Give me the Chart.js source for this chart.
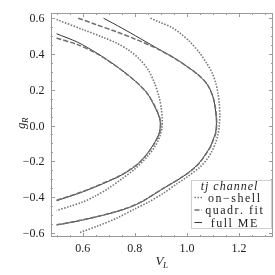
<!DOCTYPE html>
<html>
<head>
<meta charset="utf-8">
<script src="https://cdn.jsdelivr.net/npm/chart.js@4.4.1/dist/chart.umd.min.js"></script>
<style>
  html, body { margin: 0; padding: 0; background: #fff; }
  #wrap { width: 275px; height: 275px; }
</style>
</head>
<body>
<div id="wrap"><canvas id="contours" width="275" height="275"></canvas></div>
<script>
//Tick values and labels
const xTicks = [0.6, 0.8, 1.0, 1.2];
const xTickLabels = ['0.6', '0.8', '1.0', '1.2'];
const yTicks = [-0.6, -0.4, -0.2, 0.0, 0.2, 0.4, 0.6];
const yTickLabels = ['\u22120.6', '\u22120.4', '\u22120.2', '0.0', '0.2', '0.4', '0.6'];

//Legend
const legendTitle = 'tj channel';
const seriesNames = ['on\u2212shell', 'quadr. fit', 'full ME'];

//Contours [V_L, g_R]
const innerShell = [
    [0.50, 0.592], [0.60, 0.537], [0.68, 0.492], [0.73, 0.461], [0.78, 0.418], [0.82, 0.368],
    [0.851, 0.312], [0.875, 0.24], [0.893, 0.16], [0.902, 0.09], [0.905, 0.04], [0.904, -0.01],
    [0.896, -0.06], [0.879, -0.112], [0.85, -0.17], [0.80, -0.243], [0.75, -0.298], [0.70, -0.35],
    [0.65, -0.393], [0.60, -0.428], [0.55, -0.452], [0.50, -0.475]
];
const innerFit = [
    [0.50, 0.489], [0.58, 0.452], [0.654, 0.402], [0.73, 0.33], [0.794, 0.258], [0.845, 0.185],
    [0.876, 0.11], [0.894, 0.05], [0.899, 0.01], [0.895, -0.04], [0.879, -0.09], [0.852, -0.15],
    [0.815, -0.21], [0.77, -0.258], [0.73, -0.29], [0.66, -0.334], [0.60, -0.369], [0.55, -0.394],
    [0.50, -0.418]
];
const innerFull = [
    [0.50, 0.513], [0.58, 0.466], [0.654, 0.405], [0.73, 0.331], [0.794, 0.258], [0.845, 0.185],
    [0.875, 0.11], [0.893, 0.05], [0.898, 0.01], [0.894, -0.04], [0.878, -0.09], [0.851, -0.15],
    [0.815, -0.21], [0.77, -0.259], [0.73, -0.291], [0.66, -0.336], [0.60, -0.371], [0.55, -0.396],
    [0.50, -0.42]
];
const outerShell = [
    [0.86, 0.60], [0.896, 0.577], [0.94, 0.55], [0.973, 0.517], [1.01, 0.47], [1.049, 0.405],
    [1.075, 0.35], [1.098, 0.29], [1.111, 0.235], [1.119, 0.18], [1.124, 0.12], [1.126, 0.06],
    [1.124, 0.0], [1.119, -0.05], [1.109, -0.10], [1.094, -0.148], [1.075, -0.192], [1.05, -0.232],
    [1.00, -0.288], [0.96, -0.327], [0.909, -0.379], [0.85, -0.43], [0.80, -0.466], [0.73, -0.518],
    [0.66, -0.56], [0.587, -0.60]
];
const outerFit = [
    [0.583, 0.60], [0.65, 0.565], [0.73, 0.524], [0.80, 0.484], [0.86, 0.447], [0.90, 0.419],
    [0.96, 0.369], [1.01, 0.32], [1.05, 0.275], [1.08, 0.225], [1.10, 0.16], [1.109, 0.10],
    [1.113, 0.05], [1.114, 0.01], [1.111, -0.04], [1.101, -0.08], [1.09, -0.12], [1.07, -0.165],
    [1.05, -0.205], [1.02, -0.248], [0.97, -0.298], [0.90, -0.359], [0.832, -0.421], [0.78, -0.456],
    [0.73, -0.48], [0.66, -0.507], [0.60, -0.527], [0.55, -0.542], [0.50, -0.555]
];
const outerFull = [
    [0.68, 0.60], [0.75, 0.545], [0.82, 0.487], [0.90, 0.42], [0.96, 0.37], [1.01, 0.32],
    [1.05, 0.275], [1.08, 0.225], [1.10, 0.16], [1.108, 0.10], [1.112, 0.05], [1.113, 0.01],
    [1.110, -0.04], [1.10, -0.08], [1.089, -0.12], [1.069, -0.165], [1.049, -0.205], [1.019, -0.248],
    [0.97, -0.299], [0.90, -0.36], [0.832, -0.422], [0.78, -0.457], [0.73, -0.481], [0.66, -0.508],
    [0.60, -0.528], [0.55, -0.543], [0.50, -0.556]
];

const toPts = arr => arr.map(p => ({ x: p[0], y: p[1] }));

const styles = {
    shell: { color: '#767676', width: 1.6, dash: [1.5, 1.5] },
    fit: { color: '#6e6e6e', width: 1.5, dash: [5, 2] },
    full: { color: '#1e1e1e', width: 0.9, dash: [] }
};

function curve(arr, st) {
    return {
        data: toPts(arr),
        showLine: true,
        borderColor: st.color,
        borderWidth: st.width,
        borderDash: st.dash,
        pointRadius: 0,
        tension: 0.3,
        fill: false
    };
}

const serif = '"Liberation Serif", serif';

//text with extra spacing between letters, centred on cx
function spacedText(ctx, text, cx, y, gap) {
    const chars = [...text];
    const widths = chars.map(c => ctx.measureText(c).width);
    const total = widths.reduce((s, w) => s + w, 0) + gap * (chars.length - 1);
    let x = cx - total / 2;
    ctx.textAlign = 'left';
    chars.forEach((c, i) => {
        ctx.fillText(c, x, y);
        x += widths[i] + gap;
    });
}

//Frame, inward ticks, labels, titles and legend
const framePlugin = {
    id: 'frame',
    afterDatasetsDraw(chart) {
        const ctx = chart.ctx;
        const a = chart.chartArea;
        const xs = chart.scales.x;
        const ys = chart.scales.y;
        ctx.save();

        ctx.strokeStyle = '#9a9a9a';
        ctx.lineWidth = 1;
        ctx.strokeRect(a.left + 0.5, a.top + 0.5, a.right - a.left - 1, a.bottom - a.top - 1);

        //minor + major ticks, pointing inward
        const tickX = (px, major) => {
            const len = major ? 4 : 2;
            const x = Math.round(px) + 0.5;
            ctx.beginPath();
            ctx.moveTo(x, a.bottom); ctx.lineTo(x, a.bottom - len);
            ctx.moveTo(x, a.top); ctx.lineTo(x, a.top + len);
            ctx.stroke();
        };
        const tickY = (py, major) => {
            const len = major ? 4 : 2;
            const y = Math.round(py) + 0.5;
            ctx.beginPath();
            ctx.moveTo(a.left, y); ctx.lineTo(a.left + len, y);
            ctx.moveTo(a.right, y); ctx.lineTo(a.right - len, y);
            ctx.stroke();
        };
        for (let i = 10; i <= 26; i++) {
            const v = i * 0.05;
            if (v < xs.min || v > xs.max) continue;
            tickX(xs.getPixelForValue(v), i % 4 === 0);
        }
        for (let i = -12; i <= 12; i++) {
            const v = i * 0.05;
            if (v < ys.min || v > ys.max) continue;
            tickY(ys.getPixelForValue(v), i % 4 === 0);
        }

        //tick labels
        ctx.fillStyle = '#222';
        ctx.font = '12px ' + serif;
        ctx.textAlign = 'center';
        ctx.textBaseline = 'alphabetic';
        xTicks.forEach((v, i) => ctx.fillText(xTickLabels[i], xs.getPixelForValue(v), 252));
        ctx.textAlign = 'right';
        yTicks.forEach((v, i) => ctx.fillText(yTickLabels[i], 44.5, ys.getPixelForValue(v) + 4));

        //axis titles with subscripts
        const subTitle = (main, sub, cx, base) => {
            ctx.font = 'italic 13px ' + serif;
            const w1 = ctx.measureText(main).width;
            ctx.font = 'italic 9px ' + serif;
            const w2 = ctx.measureText(sub).width;
            const x0 = cx - (w1 + w2) / 2;
            ctx.textAlign = 'left';
            ctx.font = 'italic 13px ' + serif;
            ctx.fillText(main, x0, base);
            ctx.font = 'italic 9px ' + serif;
            ctx.fillText(sub, x0 + w1 - 0.5, base + 3);
        };
        subTitle('V', 'L', 162, 265);
        ctx.save();
        ctx.translate(25, 123);
        ctx.rotate(-Math.PI / 2);
        subTitle('g', 'R', 0, 0);
        ctx.restore();

        //legend box
        const bx = 191.5, by = 180.5, bw = 80, bh = 48;
        ctx.fillStyle = '#fff';
        ctx.fillRect(bx, by, bw, bh);
        ctx.strokeStyle = '#cfcfcf';
        ctx.lineWidth = 1;
        ctx.strokeRect(bx, by, bw, bh);

        ctx.fillStyle = '#222';
        ctx.font = 'italic 12px ' + serif;
        spacedText(ctx, legendTitle, 229, 190, 1);

        const rows = [201.5, 214, 226.5];
        chart.data.datasets.slice(0, 3).forEach((ds, i) => {
            ctx.save();
            ctx.strokeStyle = ds.borderColor;
            ctx.lineWidth = ds.borderWidth;
            ctx.setLineDash(ds.borderDash);
            ctx.beginPath();
            ctx.moveTo(194.5, rows[i] - 4);
            ctx.lineTo(202, rows[i] - 4);
            ctx.stroke();
            ctx.restore();
            ctx.font = '12px ' + serif;
            spacedText(ctx, seriesNames[i], 234, rows[i], 1.5);
        });
        ctx.restore();
    }
};

const contourChart = new Chart(document.getElementById('contours'), {
    type: 'scatter',
    data: {
        datasets: [
            curve(innerShell, styles.shell),
            curve(innerFit, styles.fit),
            curve(innerFull, styles.full),
            curve(outerShell, styles.shell),
            curve(outerFit, styles.fit),
            curve(outerFull, styles.full)
        ]
    },
    options: {
        responsive: false,
        devicePixelRatio: 1,
        animation: false,
        layout: { padding: { left: 51, top: 13, right: 2, bottom: 38 } },
        scales: {
            x: { type: 'linear', min: 0.4785, max: 1.33, display: false },
            y: { type: 'linear', min: -0.623, max: 0.629, display: false }
        },
        plugins: {
            legend: { display: false },
            tooltip: { enabled: false }
        }
    },
    plugins: [framePlugin]
});
</script>
</body>
</html>
